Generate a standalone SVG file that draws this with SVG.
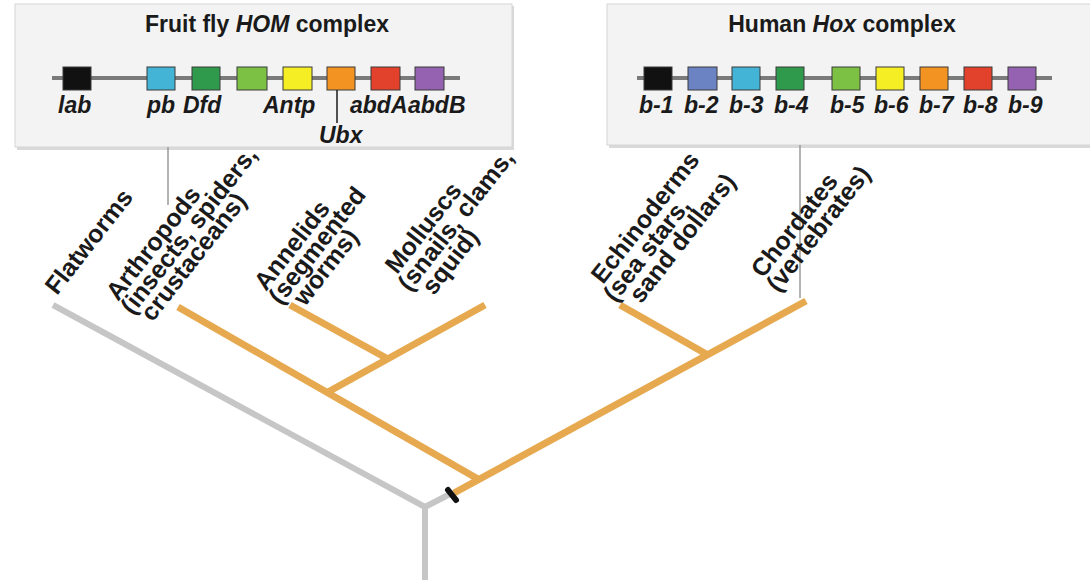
<svg xmlns="http://www.w3.org/2000/svg" width="1090" height="580" viewBox="0 0 1090 580">
  <style>
    text { font-family: "Liberation Sans", Arial, sans-serif; font-weight: bold; fill: #1a1a1a; }
    .title { font-size: 23px; text-anchor: middle; }
    .gene { font-size: 23px; font-style: italic; }
    .taxon { font-size: 25px; }
    .panel { fill: #f3f3f3; stroke: #d6d6d6; stroke-width: 1; }
    .shadow { fill: #d9d9d9; }
    .chrom { stroke: #7a7a7a; stroke-width: 4; }
    .box { stroke: #3a3a3a; stroke-width: 1; }
    .orange { stroke: #e6a94f; stroke-width: 7; fill: none; }
    .grey { stroke: #c6c6c6; stroke-width: 6; fill: none; stroke-linejoin: miter; }
    .link { stroke: #9a9a9a; stroke-width: 1.5; }
  </style>

  <rect width="1090" height="580" fill="#ffffff"/>

  <!-- Fruit fly HOM complex -->
  <g id="fly-hom">
    <rect class="shadow" x="17" y="6" width="497" height="144"/>
    <rect class="panel" x="15" y="4" width="497" height="143"/>
    <text class="title" x="267" y="32">Fruit fly <tspan font-style="italic">HOM</tspan> complex</text>
    <line class="chrom" x1="52" y1="78" x2="460" y2="78"/>
    <rect class="box" x="63" y="67" width="28" height="23" fill="#111111"/>
    <rect class="box" x="147" y="67" width="28" height="23" fill="#43b3d6"/>
    <rect class="box" x="192" y="67" width="28" height="23" fill="#2f9a4c"/>
    <rect class="box" x="237" y="67" width="30" height="23" fill="#7cc143"/>
    <rect class="box" x="283" y="67" width="29" height="23" fill="#f6ee25"/>
    <rect class="box" x="327" y="67" width="28" height="23" fill="#f39322"/>
    <rect class="box" x="371" y="67" width="29" height="23" fill="#e2412b"/>
    <rect class="box" x="415" y="67" width="29" height="23" fill="#9462b0"/>
    <line x1="337" y1="90" x2="337" y2="123" stroke="#1a1a1a" stroke-width="1.5"/>
    <text class="gene" x="58" y="113">lab</text>
    <text class="gene" x="147" y="113">pb</text>
    <text class="gene" x="183" y="113">Dfd</text>
    <text class="gene" x="263" y="113">Antp</text>
    <text class="gene" x="350" y="113">abdA</text>
    <text class="gene" x="408" y="113">abdB</text>
    <text class="gene" x="319" y="143">Ubx</text>
  </g>

  <!-- Human Hox complex -->
  <g id="human-hox">
    <rect class="shadow" x="609" y="6" width="483" height="142"/>
    <rect class="panel" x="607" y="4" width="484" height="141"/>
    <text class="title" x="842" y="32">Human <tspan font-style="italic">Hox</tspan> complex</text>
    <line class="chrom" x1="637" y1="78" x2="1052" y2="78"/>
    <rect class="box" x="644" y="67" width="28" height="23" fill="#111111"/>
    <rect class="box" x="688" y="67" width="29" height="23" fill="#6b83c2"/>
    <rect class="box" x="732" y="67" width="28" height="23" fill="#43b3d6"/>
    <rect class="box" x="776" y="67" width="28" height="23" fill="#2f9a4c"/>
    <rect class="box" x="832" y="67" width="28" height="23" fill="#7cc143"/>
    <rect class="box" x="876" y="67" width="28" height="23" fill="#f6ee25"/>
    <rect class="box" x="920" y="67" width="28" height="23" fill="#f39322"/>
    <rect class="box" x="964" y="67" width="28" height="23" fill="#e2412b"/>
    <rect class="box" x="1008" y="67" width="28" height="23" fill="#9462b0"/>
    <text class="gene" x="639" y="113">b-1</text>
    <text class="gene" x="684" y="113">b-2</text>
    <text class="gene" x="729" y="113">b-3</text>
    <text class="gene" x="774" y="113">b-4</text>
    <text class="gene" x="830" y="113">b-5</text>
    <text class="gene" x="874" y="113">b-6</text>
    <text class="gene" x="919" y="113">b-7</text>
    <text class="gene" x="963" y="113">b-8</text>
    <text class="gene" x="1008" y="113">b-9</text>
  </g>

  <!-- Tree branches and panel links -->
  <g id="connectors">
    <line class="link" x1="168" y1="147" x2="168" y2="205"/>
    <line class="link" x1="800" y1="145" x2="800" y2="298"/>
    <polyline class="grey" points="53,305 425,507 452,493"/>
    <line class="grey" x1="425" y1="505" x2="425" y2="580"/>
    <line class="orange" x1="454" y1="493" x2="806" y2="301"/>
    <line class="orange" x1="178" y1="307" x2="478" y2="479"/>
    <line class="orange" x1="485" y1="305" x2="328" y2="392"/>
    <line class="orange" x1="290" y1="305" x2="388" y2="359"/>
    <line class="orange" x1="620" y1="305" x2="708" y2="355"/>
    <line x1="448" y1="490" x2="456" y2="500" stroke="#111111" stroke-width="6" stroke-linecap="round"/>
  </g>

  <!-- Taxon labels -->
  <g id="flatworms" transform="translate(57,296) rotate(-52)">
    <text class="taxon" x="0" y="0">Flatworms</text>
  </g>
  <g id="arthropods" transform="translate(118,302) rotate(-52)">
    <text class="taxon"><tspan x="0" y="0">Arthropods</tspan><tspan x="-2" y="20">(insects, spiders,</tspan><tspan x="5" y="40">crustaceans)</tspan></text>
  </g>
  <g id="annelids" transform="translate(266,292) rotate(-52)">
    <text class="taxon"><tspan x="0" y="0">Annelids</tspan><tspan x="-2" y="20">(segmented</tspan><tspan x="12" y="40">worms)</tspan></text>
  </g>
  <g id="molluscs" transform="translate(397,275) rotate(-52)">
    <text class="taxon"><tspan x="0" y="0">Molluscs</tspan><tspan x="-6" y="21">(snails, clams,</tspan><tspan x="6" y="42">squid)</tspan></text>
  </g>
  <g id="echinoderms" transform="translate(603,285) rotate(-52)">
    <text class="taxon"><tspan x="0" y="0">Echinoderms</tspan><tspan x="-7" y="21">(sea stars,</tspan><tspan x="8" y="42">sand dollars)</tspan></text>
  </g>
  <g id="chordates" transform="translate(763,279) rotate(-52)">
    <text class="taxon"><tspan x="0" y="0">Chordates</tspan><tspan x="-2" y="21">(vertebrates)</tspan></text>
  </g>
</svg>
